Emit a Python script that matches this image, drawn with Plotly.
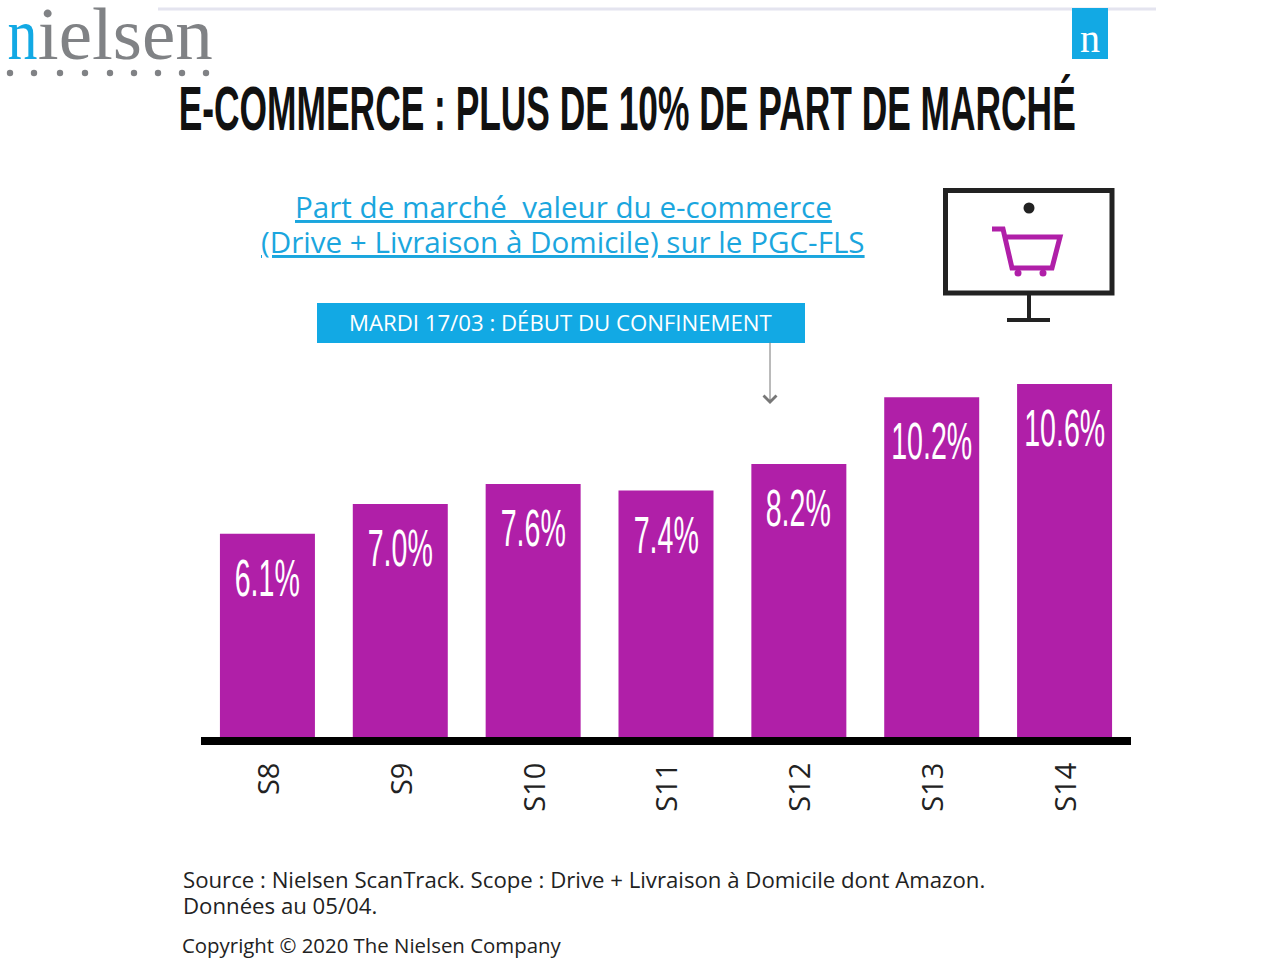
import plotly.graph_objects as go

# data
semaines = ["S8", "S9", "S10", "S11", "S12", "S13", "S14"]
part_marche = [6.1, 7.0, 7.6, 7.4, 8.2, 10.2, 10.6]
etiquettes = ["6.1%", "7.0%", "7.6%", "7.4%", "8.2%", "10.2%", "10.6%"]

W, H = 1280, 960
L, R, T, B = 201, 1131, 370, 737
VIOLET = "#B01FA8"
BLEU = "#12A9E4"
NOIR = "#222222"
TITRE = "E-COMMERCE : PLUS DE 10% DE PART DE MARCHÉ"


# picture pixels -> paper coords, for the furniture around the plot
def px(x):
    return (x - L) / (R - L)


def py(y):
    return (B - y) / (B - T)


def label(x, y, txt, size, color="#222222", font="Open Sans", anchor="left", weight="normal"):
    return dict(x=px(x), y=py(y), xref="paper", yref="paper", text=txt, showarrow=False,
                xanchor=anchor, yanchor="middle", font=dict(family=font, size=size, color=color, weight=weight))


def rect(x0, y0, x1, y1, fill=None, line=None, lw=0):
    return dict(type="rect", xref="paper", yref="paper", x0=px(x0), y0=py(y0), x1=px(x1), y1=py(y1),
                fillcolor=fill if fill else "rgba(0,0,0,0)", line=dict(color=line, width=lw) if line else dict(width=0))


def seg(x0, y0, x1, y1, color, lw):
    return dict(type="line", xref="paper", yref="paper", x0=px(x0), y0=py(y0), x1=px(x1), y1=py(y1),
                line=dict(color=color, width=lw))


def dot(x, y, r, color):
    return dict(type="circle", xref="paper", yref="paper", x0=px(x - r), y0=py(y - r), x1=px(x + r), y1=py(y + r),
                fillcolor=color, line=dict(width=0))


fig = go.Figure(go.Bar(
    x=semaines, y=part_marche, width=0.715,
    marker=dict(color=VIOLET, line=dict(width=0)),
    hoverinfo="skip",
))

shapes = [seg(158, 9, 1156, 9, "#E4E4EF", 3), rect(1072, 8, 1108, 59, fill=BLEU)]
# logo dots
for dx in [10, 34, 60, 85, 110, 134, 158, 182, 206]:
    shapes.append(dot(dx, 73, 3.2, "#808285"))
# screen + cart
shapes += [
    rect(945.5, 190.5, 1112, 293, line=NOIR, lw=5),
    seg(1029, 293, 1029, 320, NOIR, 4),
    seg(1007, 320, 1050, 320, NOIR, 4),
    dot(1029, 208, 5.5, NOIR),
    dict(type="path", xref="paper", yref="paper", line=dict(color=VIOLET, width=5),
         path="M %f %f L %f %f L %f %f L %f %f L %f %f L %f %f" % (
             px(992), py(229), px(1003), py(229), px(1012), py(268),
             px(1052), py(268), px(1060), py(237), px(1003), py(237))),
    dot(1018, 273, 3.5, VIOLET),
    dot(1043, 273, 3.5, VIOLET),
    rect(317, 303, 805, 343, fill=BLEU),
]

annots = [
    label(1.5, 34, "n", 74, BLEU, "Liberation Serif"),
    label(37, 34, "ielsen", 74, "#808285", "Liberation Serif"),
    label(1090, 38, "n", 40, "white", "Liberation Serif", "center"),
    label(626.5, 108, TITRE, 63, "#111111", "Liberation Sans", "center", "bold"),
    label(563.5, 206, "<u>Part de marché  valeur du e-commerce</u>", 29.6, "#1BA6DE", anchor="center"),
    label(563, 242, "<u>(Drive + Livraison à Domicile) sur le PGC-FLS</u>", 29.6, "#1BA6DE", anchor="center"),
    label(560, 322, "MARDI 17/03 : DÉBUT DU CONFINEMENT", 22.2, "white", anchor="center"),
    label(181, 879, "Source : Nielsen ScanTrack. Scope : Drive + Livraison à Domicile dont Amazon.", 22.2),
    label(181, 905, "Données au 05/04.", 22.2),
    label(180, 945, "Copyright © 2020 The Nielsen Company", 20.4),
    dict(x=px(770), y=py(404), xref="paper", yref="paper", ax=0, ay=-63, axref="pixel", ayref="pixel",
         text="", showarrow=True, arrowhead=4, arrowsize=2.5, arrowwidth=1, arrowcolor="#777777"),
]
# bar values, tall narrow figures hanging from the top of each bar
for s, v, e in zip(semaines, part_marche, etiquettes):
    annots.append(dict(x=s, y=v, xref="x", yref="y", text=e, showarrow=False, yanchor="top", yshift=-13,
                       font=dict(family="Liberation Sans", size=52, color="white")))

fig.update_layout(
    width=W, height=H, margin=dict(l=L, r=W - R, t=T, b=H - B, pad=0),
    paper_bgcolor="white", plot_bgcolor="white", showlegend=False,
    shapes=shapes, annotations=annots,
    xaxis=dict(type="category", range=[-0.5, 6.5], showline=True, linewidth=8, linecolor="black",
               showgrid=False, ticks="", tickangle=-90, ticklabelstandoff=6, ticklabelshift=2,
               tickfont=dict(family="Open Sans", size=29, color="#222222")),
    yaxis=dict(range=[0, 11.02], visible=False, fixedrange=True),
)

# no condensed font installed: squeeze the glyphs of the display texts with textLength
post = """
document.body.style.margin='0';document.body.style.overflow='hidden';
var titre = %r, valeurs = %r;
document.querySelectorAll('text.annotation-text').forEach(function (t) {
  var s = t.textContent, w = t.getComputedTextLength(), n = 0;
  if (s === titre) n = 897;
  else if (valeurs.indexOf(s) >= 0) n = w * 0.55;
  else if (s === 'n' && w > 30) n = 30;
  else if (s === 'ielsen') n = 175;
  if (n) { t.setAttribute('textLength', n); t.setAttribute('lengthAdjust', 'spacingAndGlyphs'); }
});
""" % (TITRE, etiquettes)

fig.write_html("out.html", config={"displayModeBar": False}, post_script=post)
